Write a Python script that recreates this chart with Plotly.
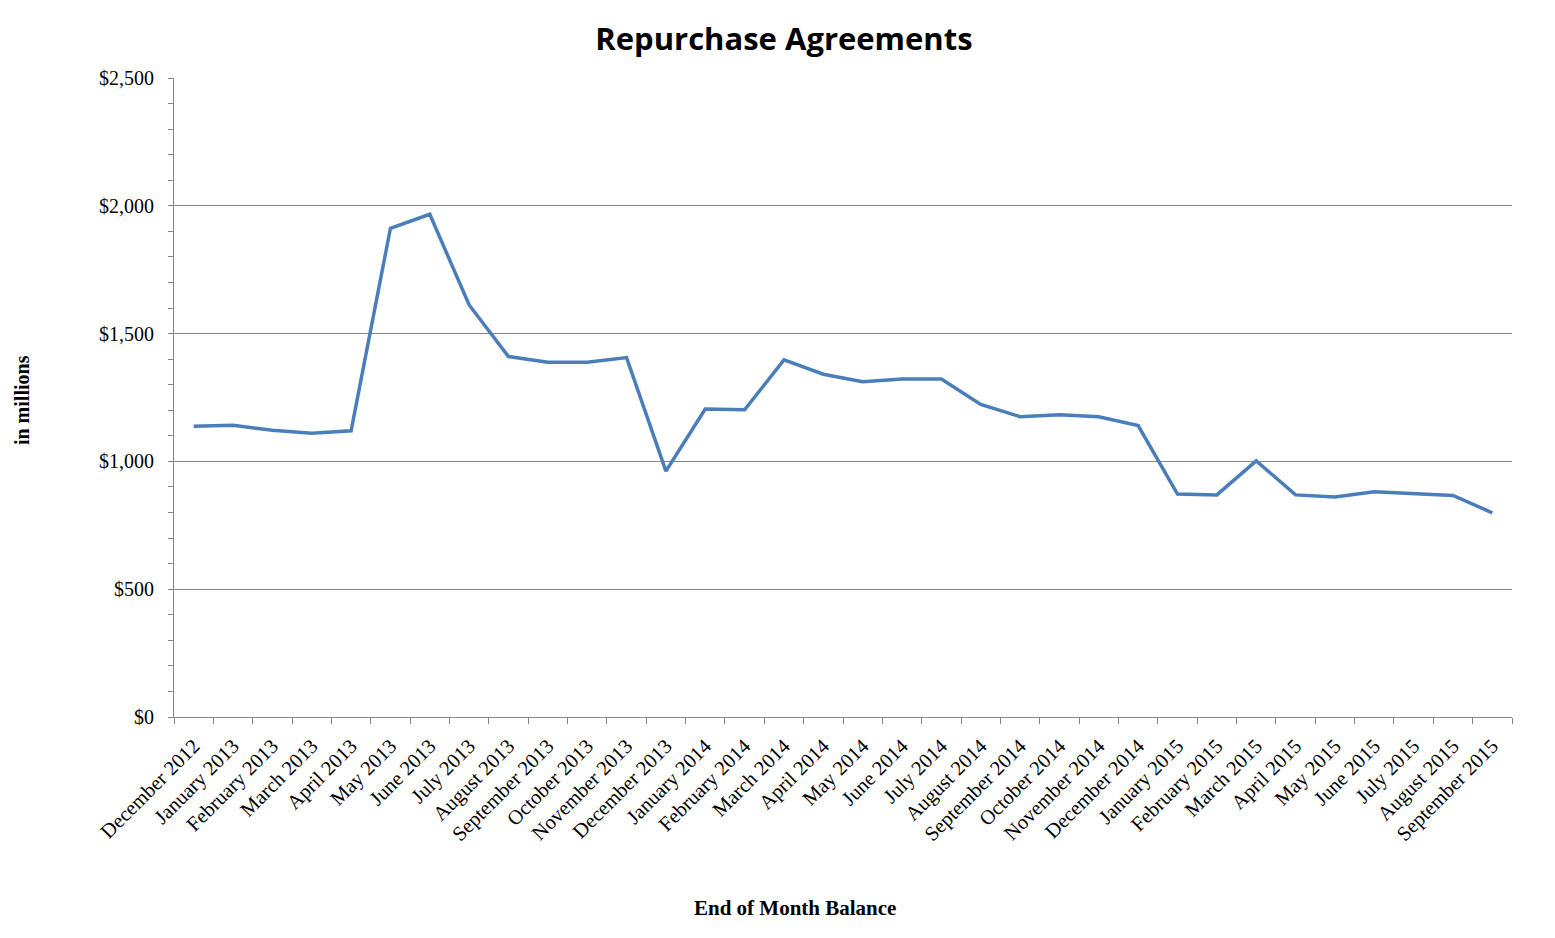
import plotly.graph_objects as go

# end of month balances, in millions of dollars
months = [
    "December 2012", "January 2013", "February 2013", "March 2013", "April 2013",
    "May 2013", "June 2013", "July 2013", "August 2013", "September 2013",
    "October 2013", "November 2013", "December 2013", "January 2014", "February 2014",
    "March 2014", "April 2014", "May 2014", "June 2014", "July 2014",
    "August 2014", "September 2014", "October 2014", "November 2014", "December 2014",
    "January 2015", "February 2015", "March 2015", "April 2015", "May 2015",
    "June 2015", "July 2015", "August 2015", "September 2015",
]
balance = [
    1138, 1141, 1122, 1110, 1120,
    1912, 1967, 1612, 1410, 1388,
    1388, 1406, 962, 1205, 1202,
    1397, 1341, 1312, 1322, 1322,
    1223, 1175, 1183, 1175, 1140,
    872, 869, 1002, 869, 861,
    881, 875, 867, 799,
]

grey = "#868686"
serif = "Liberation Serif, Times New Roman, serif"

fig = go.Figure()
fig.add_trace(go.Scatter(x=months, y=balance, mode="lines",
                         line=dict(color="#4A7EBB", width=3.5)))

# page has an 8px body margin, so the figure is a bit smaller than the window
fig.update_layout(
    width=1547, height=930,
    margin=dict(l=166, r=43, t=70, b=221),
    paper_bgcolor="white", plot_bgcolor="white",
    showlegend=False,
    title=dict(text="<b>Repurchase Agreements</b>", x=0.5016, y=0.966,
               xanchor="center", yanchor="middle", xref="container", yref="container",
               font=dict(family="Open Sans, sans-serif", size=31, color="black")),
)

fig.update_xaxes(
    type="category", range=[-0.5, len(months) - 0.5],
    tickson="boundaries", ticks="outside", ticklen=6, tickcolor=grey,
    showline=True, linecolor=grey, linewidth=1, showgrid=False,
    tickangle=-45, ticklabelstandoff=8,
    tickfont=dict(family=serif, size=20.5, color="black"),
)
fig.update_yaxes(
    range=[0, 2500], dtick=500, tickprefix="$", tickformat=",",
    ticks="outside", ticklen=5, tickcolor=grey, ticklabelstandoff=10,
    minor=dict(dtick=100, ticks="outside", ticklen=5, tickcolor=grey, showgrid=False),
    showline=True, linecolor=grey, linewidth=1,
    showgrid=True, gridcolor=grey, gridwidth=1, zeroline=False,
    tickfont=dict(family=serif, size=20, color="black"),
)

fig.add_annotation(text="<b>in millions</b>", x=-0.1136, y=0.496, xref="paper", yref="paper",
                   textangle=-90, showarrow=False, xanchor="center", yanchor="middle",
                   font=dict(family=serif, size=20, color="black"))
fig.add_annotation(text="<b>End of Month Balance</b>", x=0.464, y=-0.299, xref="paper", yref="paper",
                   showarrow=False, xanchor="center", yanchor="middle",
                   font=dict(family=serif, size=21, color="black"))

fig.write_html("out.html")
